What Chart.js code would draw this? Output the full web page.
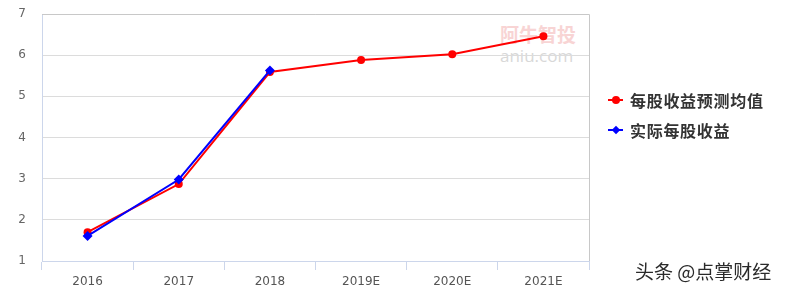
<!DOCTYPE html>
<html><head><meta charset="utf-8">
<script src="https://cdn.jsdelivr.net/npm/chart.js@4.4.1/dist/chart.umd.min.js"></script>
<style>
html,body{margin:0;padding:0;background:#fff;}
#wrap{position:relative;width:787px;height:293px;overflow:hidden;}
canvas{position:absolute;left:0;top:0;}
.lg{position:absolute;left:608px;height:20px;font:bold 16px "Noto Sans CJK SC",sans-serif;color:#333;letter-spacing:0.7px;white-space:nowrap;}
.lg .mk{position:absolute;left:0;top:9px;width:15px;height:2px;}
.lg .dt{position:absolute;left:4px;top:6px;width:8px;height:8px;border-radius:50%;}
.lg .dm{position:absolute;left:5px;top:7px;width:6px;height:6px;transform:rotate(45deg);}
.lg span.t{position:absolute;left:22px;top:-2px;}
.wm{position:absolute;white-space:nowrap;}
</style></head>
<body><div id="wrap">
<div class="wm" style="left:500px;top:20px;font:bold 19px 'Noto Sans CJK SC',sans-serif;color:#f8d4d4;">阿牛智投</div>
<div class="wm" style="left:500px;top:44px;font:17px 'Open Sans',sans-serif;color:#d8d8d8;">aniu.com</div>
<canvas id="c" width="787" height="293"></canvas>
<div class="lg" style="top:90px;"><div class="mk" style="background:#ff0000"></div><div class="dt" style="background:#ff0000"></div><span class="t">每股收益预测均值</span></div>
<div class="lg" style="top:120px;"><div class="mk" style="background:#0000ff"></div><div class="dm" style="background:#0000ff"></div><span class="t">实际每股收益</span></div>
<div class="wm" style="left:635px;top:257px;font:19px 'Noto Sans CJK SC',sans-serif;color:#2a2a2a;">头条 @点掌财经</div>
</div>
<script>
const categories = ["2016","2017","2018","2019E","2020E","2021E"];
const forecastEPS = [1.70, 2.87, 5.59, 5.88, 6.02, 6.46];
const actualEPS = [1.61, 2.98, 5.63, null, null, null];
const yTicks = [1,2,3,4,5,6,7];

const borderPlugin = {
  id:'plotBorder',
  afterDraw(chart){
    const {ctx, chartArea:a} = chart;
    ctx.save();
    ctx.strokeStyle='#c8c8c8';
    ctx.lineWidth=1;
    ctx.beginPath();
    ctx.moveTo(a.left, Math.round(a.top)+0.5);
    ctx.lineTo(Math.round(a.right)+0.5, Math.round(a.top)+0.5);
    ctx.lineTo(Math.round(a.right)+0.5, a.bottom);
    ctx.stroke();
    ctx.restore();
  }
};

new Chart(document.getElementById('c'), {
  type:'line',
  data:{
    labels:categories,
    datasets:[
      {label:'每股收益预测均值', data:forecastEPS, borderColor:'#ff0000', backgroundColor:'#ff0000',
       borderWidth:2, pointRadius:4, pointStyle:'circle', pointBorderWidth:0, tension:0, order:2},
      {label:'实际每股收益', data:actualEPS, borderColor:'#0000ff', backgroundColor:'#0000ff',
       borderWidth:2, pointRadius:5, pointStyle:'rectRot', pointBorderWidth:0, tension:0, order:1}
    ]
  },
  options:{
    responsive:false,
    animation:false,
    layout:{autoPadding:false,padding:{left:0,right:198,top:14,bottom:0}},
    plugins:{legend:{display:false},tooltip:{enabled:false}},
    scales:{
      x:{
        offset:true,
        grid:{display:true,drawOnChartArea:false,drawTicks:true,tickLength:9,color:'#ccd6eb',offset:true},
        border:{display:true,color:'#ccd6eb'},
        ticks:{color:'#555',font:{size:12,family:'"DejaVu Sans",sans-serif'},padding:5,maxRotation:0},
        afterFit(s){s.height=32;}
      },
      y:{
        min:1,max:7,
        afterBuildTicks(s){s.ticks = yTicks.map(v=>({value:v}));},
        grid:{color:'#dcdcdc',drawTicks:false},
        border:{display:true,color:'#ccd6eb'},
        ticks:{color:'#666',font:{size:12,family:'"DejaVu Sans",sans-serif'},padding:16},
        afterFit(s){s.width=42;s.paddingTop=0;s.paddingBottom=0;}
      }
    }
  },
  plugins:[borderPlugin]
});
</script>
</body></html>
